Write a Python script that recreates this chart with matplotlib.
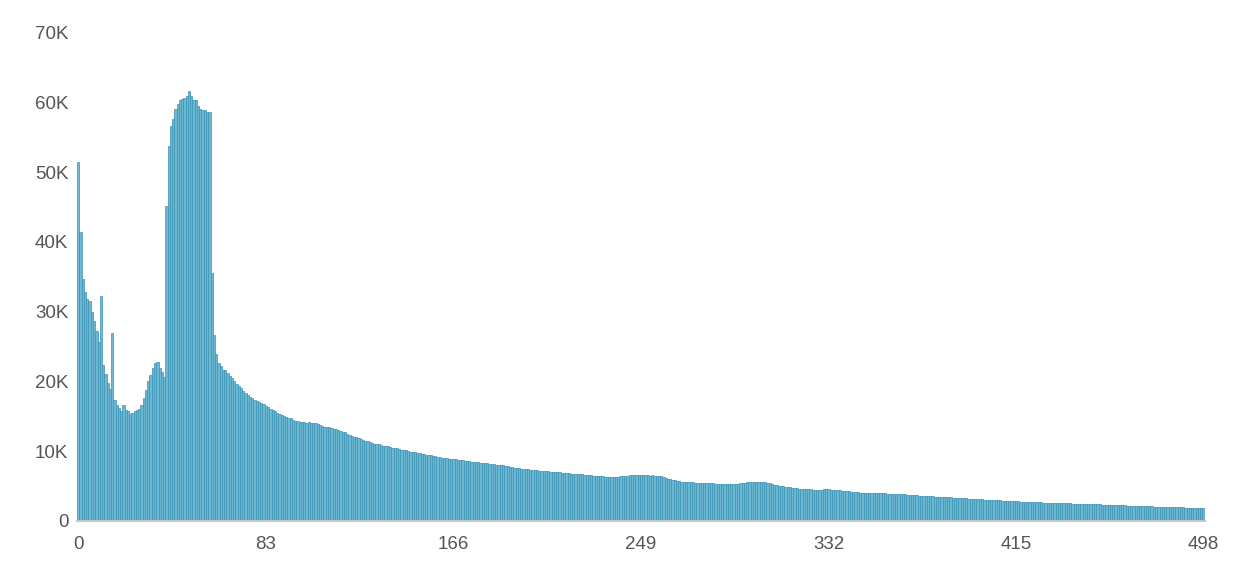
import numpy as np
import matplotlib
matplotlib.use("Agg")
import matplotlib.pyplot as plt
from matplotlib.ticker import FuncFormatter

# bar heights in thousands, one per bin 0..498
peak_part = [
    51.5, 41.5, 34.7, 32.8, 31.8, 31.6, 29.9, 28.6, 27.2, 25.7,
    32.2, 22.4, 21.1, 19.8, 18.9, 27.0, 17.4, 16.6, 16.2, 15.7,
    16.6, 15.9, 15.7, 15.4, 15.5, 15.8, 15.9, 16.0, 16.6, 17.6,
    18.8, 20.0, 20.9, 21.9, 22.6, 22.8, 22.0, 21.4, 20.6, 45.2,
    53.8, 56.6, 57.6, 59.0, 59.8, 60.3, 60.5, 60.6, 60.9, 61.7,
    61.0, 60.3, 60.4, 59.5, 59.1, 58.9, 58.9, 58.7, 58.7, 35.6,
    26.7, 24.0, 22.6, 22.2, 21.7, 21.6, 21.2, 20.8, 20.5, 20.0,
    19.6, 19.3, 19.0, 18.7, 18.3, 18.1, 17.8, 17.6,
]
mid_part = [
    17.4, 17.2, 17.0, 16.9, 16.7, 16.5, 16.3, 16.1, 15.9, 15.7,
    15.5, 15.4, 15.2, 15.1, 14.9, 14.8, 14.7, 14.5, 14.4, 14.3,
    14.2, 14.2, 14.2, 14.1, 14.2, 14.1, 14.0, 14.1, 13.9, 13.8,
    13.6, 13.5, 13.4, 13.4, 13.3, 13.2, 13.2, 13.0, 12.9, 12.8,
    12.7, 12.5, 12.3, 12.2, 12.1, 12.0, 11.9, 11.8, 11.6, 11.5,
    11.5, 11.3, 11.2, 11.1, 11.1, 11.0, 10.9, 10.8, 10.8, 10.7,
    10.6, 10.5, 10.4, 10.4, 10.3, 10.2, 10.1, 10.1, 10.0, 9.95,
    9.9, 9.85, 9.8, 9.7, 9.65, 9.6, 9.5, 9.45, 9.4, 9.3,
    9.25, 9.2, 9.1, 9.05, 9.0, 9.0, 8.95, 8.9, 8.85, 8.85,
    8.8, 8.75, 8.7, 8.65, 8.6, 8.55, 8.5, 8.45, 8.4, 8.4,
    8.35, 8.35, 8.3, 8.25, 8.2, 8.15, 8.1, 8.05, 8.0, 8.0,
    7.95, 7.9, 7.85, 7.8, 7.7, 7.65, 7.6, 7.55, 7.5, 7.5,
    7.45, 7.4, 7.35, 7.3, 7.3, 7.25, 7.2, 7.2, 7.15, 7.1,
    7.1, 7.05, 7.0, 7.0, 6.95, 6.95,
]
bump_part = [
    6.9, 6.9, 6.85, 6.85, 6.8, 6.8, 6.8, 6.75, 6.7, 6.7,
    6.65, 6.6, 6.6, 6.55, 6.5, 6.5, 6.45, 6.45, 6.4, 6.35,
    6.3, 6.3, 6.25, 6.25, 6.3, 6.35, 6.4, 6.45, 6.5, 6.5,
    6.55, 6.55, 6.55, 6.6, 6.55, 6.6, 6.55, 6.55, 6.55, 6.5,
    6.55, 6.5, 6.5, 6.45, 6.4, 6.3, 6.2, 6.05, 5.95, 5.85,
    5.8, 5.75, 5.7, 5.65, 5.6, 5.6, 5.55, 5.55, 5.55, 5.5,
    5.5, 5.5, 5.45, 5.45, 5.45, 5.4, 5.4, 5.4, 5.35, 5.35,
    5.35, 5.3, 5.35, 5.3, 5.3, 5.3, 5.3, 5.3, 5.35, 5.4,
    5.45, 5.5, 5.55, 5.6, 5.6, 5.65, 5.65, 5.65, 5.6, 5.6,
    5.55, 5.5, 5.4, 5.3, 5.2, 5.1, 5.05, 5.0, 4.95, 4.9,
    4.85, 4.8, 4.75, 4.72, 4.7, 4.65, 4.64, 4.6, 4.58, 4.55,
    4.52, 4.5, 4.48, 4.46, 4.45, 4.5, 4.55, 4.58, 4.55, 4.5,
    4.48, 4.45, 4.42, 4.4, 4.36, 4.35, 4.3, 4.26, 4.22, 4.18,
    4.14, 4.1, 4.07, 4.06, 4.05, 4.04, 4.02, 4.01, 4.0, 3.99,
    3.98, 3.97, 3.96, 3.94, 3.92, 3.9, 3.88, 3.86, 3.85, 3.84,
    3.83,
]
tail_part = [
    3.81, 3.79, 3.76, 3.73, 3.7, 3.68, 3.66, 3.64, 3.62, 3.6,
    3.58, 3.56, 3.54, 3.52, 3.5, 3.48, 3.46, 3.44, 3.42, 3.4,
    3.38, 3.36, 3.34, 3.32, 3.3, 3.28, 3.26, 3.24, 3.22, 3.2,
    3.18, 3.16, 3.14, 3.12, 3.11, 3.09, 3.07, 3.05, 3.03, 3.01,
    2.99, 2.97, 2.95, 2.93, 2.91, 2.89, 2.87, 2.85, 2.83, 2.82,
    2.8, 2.79, 2.78, 2.76, 2.75, 2.74, 2.72, 2.71, 2.7, 2.69,
    2.67, 2.66, 2.64, 2.63, 2.62, 2.6, 2.59, 2.58, 2.57, 2.55,
    2.54, 2.53, 2.52, 2.51, 2.5, 2.49, 2.47, 2.46, 2.45, 2.44,
    2.43, 2.42, 2.41, 2.4, 2.39, 2.38, 2.37, 2.36, 2.35, 2.34,
    2.33, 2.32, 2.31, 2.3, 2.29, 2.27, 2.26, 2.24, 2.23, 2.21,
    2.2, 2.18, 2.17, 2.15, 2.14, 2.12, 2.11, 2.1, 2.09, 2.08,
    2.07, 2.06, 2.05, 2.04, 2.03, 2.02, 2.01, 2.0, 1.99, 1.98,
    1.97, 1.96, 1.95, 1.94, 1.93, 1.92, 1.91, 1.9, 1.89, 1.88,
    1.87, 1.86, 1.85, 1.84,
]

counts = np.array(peak_part + mid_part + bump_part + tail_part) * 1000
bins = np.arange(len(counts))
xtick_vals = [0, 83, 166, 249, 332, 415, 498]
ytick_vals = [0, 10000, 20000, 30000, 40000, 50000, 60000, 70000]

plt.rcParams["font.family"] = ["Liberation Sans", "DejaVu Sans"]

fig = plt.figure(figsize=(12.58, 5.65), dpi=100)
ax = fig.add_axes([0.061, 0.078, 0.897, 0.864])

ax.bar(bins, counts, width=1.0, color="#6cb8d3", edgecolor="#3a92b5", linewidth=0.5)

ax.set_xlim(-0.7, 498.7)
ax.set_ylim(0, 70000)
ax.set_xticks(xtick_vals)
ax.set_yticks(ytick_vals)
ax.yaxis.set_major_formatter(FuncFormatter(lambda v, p: "0" if v == 0 else f"{int(v / 1000)}K"))

for s in ["top", "right", "left"]:
    ax.spines[s].set_visible(False)
ax.spines["bottom"].set_color("#c8c8c8")
ax.spines["bottom"].set_linewidth(1.5)
ax.tick_params(axis="both", length=0, labelsize=13.5, labelcolor="#555555")
ax.tick_params(axis="y", pad=6)
ax.tick_params(axis="x", pad=11)

fig.savefig("out.png", dpi=100)
